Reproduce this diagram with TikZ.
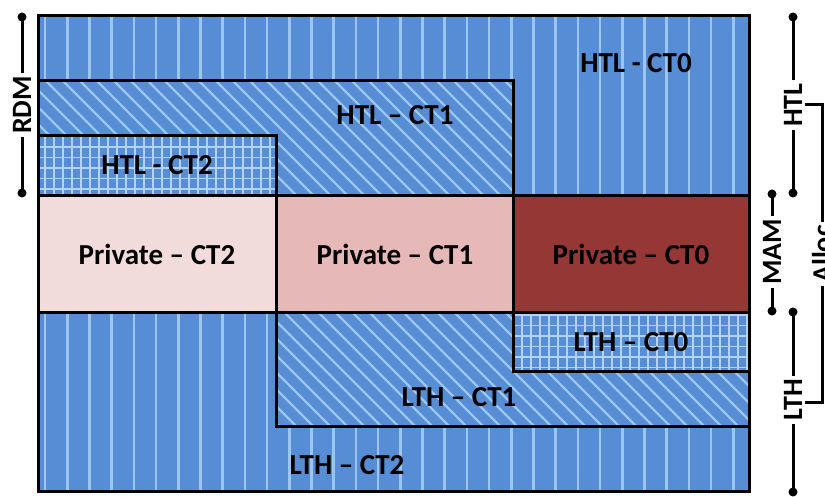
\documentclass[tikz,border=0pt]{standalone}
\usepackage{fontspec}
\setmainfont{Carlito}
\definecolor{blueF}{RGB}{86,141,212}
\definecolor{stripeC}{RGB}{155,198,240}
\definecolor{gridC}{RGB}{178,210,246}
\definecolor{pvtTwo}{RGB}{242,220,219}
\definecolor{pvtOne}{RGB}{230,185,184}
\definecolor{pvtZero}{RGB}{149,55,53}
\newcommand\regionV[4]{%
  \fill[blueF] (#1,#2) rectangle (#3,#4);
  \begin{scope}
    \clip (#1,#2) rectangle (#3,#4);
    \foreach \xx in {45,67.2,...,760}{\draw[stripeC,line width=2.6pt] (\xx,#2) -- (\xx,#4);}
  \end{scope}}
\newcommand\regionD[4]{%
  \fill[blueF] (#1,#2) rectangle (#3,#4);
  \begin{scope}
    \clip (#1,#2) rectangle (#3,#4);
    \foreach \xx in {-260,-243,...,760}{\draw[stripeC,line width=2.2pt] (\xx,#2) -- ++(250,250);}
  \end{scope}}
\newcommand\regionG[4]{%
  \fill[blueF] (#1,#2) rectangle (#3,#4);
  \begin{scope}
    \clip (#1,#2) rectangle (#3,#4);
    \foreach \xx in {0,9,...,825}{\draw[gridC,line width=1.8pt] (\xx,#2) -- (\xx,#4);}
    \foreach \yy in {0,10.5,...,497}{\draw[gridC,line width=1.8pt] (#1,\yy) -- (#3,\yy);}
  \end{scope}}
\tikzset{
  border/.style={draw=black,line width=3pt},
  lbl/.style={font=\fontsize{29}{32}\selectfont\bfseries,text=black,inner sep=0pt},
  side/.style={font=\fontsize{28}{30}\selectfont\bfseries,text=black,rotate=90,inner sep=3pt},
  brk/.style={line width=3pt,black},
  dotc/.style={circle,fill=black,inner sep=0pt,minimum size=9pt}
}
\begin{document}
\begin{tikzpicture}[x=1pt,y=-1pt]
\useasboundingbox (0,0) rectangle (825,497);
% HTL regions
\regionV{38}{16}{749}{196}
\regionD{38}{81}{513}{196}
\draw[border] (38,81) rectangle (513,196);
\regionG{38}{136}{276}{196}
\draw[border] (38,136) rectangle (276,196);
% LTH regions
\regionV{38}{312}{749}{491}
\regionD{276}{312}{749}{426}
\draw[border] (276,312) rectangle (749,426);
\regionG{513}{312}{749}{371}
\draw[border] (513,312) rectangle (749,371);
% private row
\draw[border,fill=pvtTwo] (38,196) rectangle (276,312);
\draw[border,fill=pvtOne] (276,196) rectangle (513,312);
\draw[border,fill=pvtZero] (513,196) rectangle (749,312);
% outer
\draw[border] (38,16) rectangle (749,491);
% labels
\node[lbl] (h0) at (636,63) {HTL - CT0};
\node[lbl] (h1) at (395,115) {HTL – CT1};
\node[lbl] (h2) at (157,165) {HTL - CT2};
\node[lbl] (p2) at (157,254) {Private – CT2};
\node[lbl] (p1) at (395,254) {Private – CT1};
\node[lbl] (p0) at (631,254) {Private – CT0};
\node[lbl] (l0) at (631,342) {LTH – CT0};
\node[lbl] (l1) at (459,397) {LTH – CT1};
\node[lbl] (l2) at (347,465) {LTH – CT2};
% side brackets
\node[dotc] (rdmT) at (22,17) {};
\node[dotc] (rdmB) at (22,193) {};
\node[side] (rdm) at (22,105) {RDM};
\draw[brk] (rdmT.center) -- (rdm); \draw[brk] (rdm) -- (rdmB.center);
\node[dotc] (htlT) at (793,17) {};
\node[dotc] (htlB) at (793,193) {};
\node[side] (htl) at (793,105) {HTL};
\draw[brk] (htlT.center) -- (htl); \draw[brk] (htl) -- (htlB.center);
\node[dotc] (mamT) at (772,194) {};
\node[dotc] (mamB) at (772,311) {};
\node[side] (mam) at (772,252) {MAM};
\draw[brk] (mamT.center) -- (mam); \draw[brk] (mam) -- (mamB.center);
\node[dotc] (lthT) at (793,312) {};
\node[dotc] (lthB) at (793,492) {};
\node[side] (lth) at (793,400) {LTH};
\draw[brk] (lthT.center) -- (lth); \draw[brk] (lth) -- (lthB.center);
% alloc bracket (cut off at the right edge, as in the reference)
\node[side] (alloc) at (822,254) {Alloc};
\coordinate (aT) at (822,105);
\coordinate (aB) at (822,402);
\draw[brk] (htl.south |- aT) -- (aT) -- (alloc);
\draw[brk] (alloc) -- (aB) -- (lth.south |- aB);
\end{tikzpicture}
\end{document}
